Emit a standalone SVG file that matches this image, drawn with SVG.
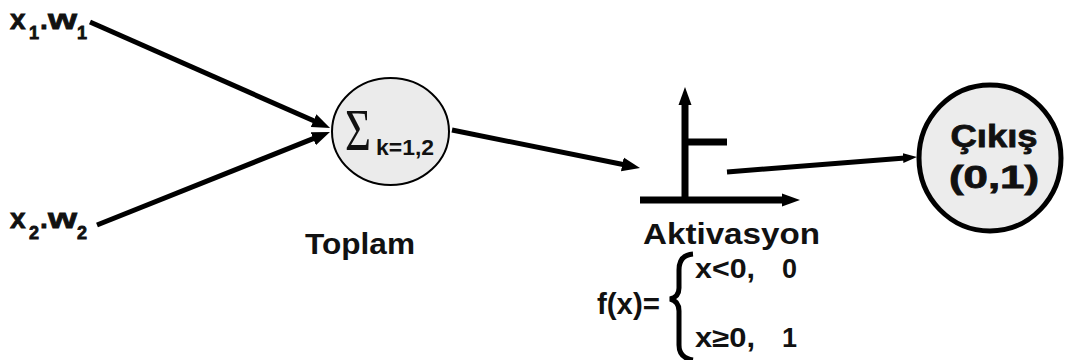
<svg xmlns="http://www.w3.org/2000/svg" width="1067" height="360" viewBox="0 0 1067 360">
<style>
.t{font-family:"Liberation Sans",Arial,sans-serif;font-weight:bold;fill:#111}
.h{stroke:#111;stroke-width:0.8}
.ln{stroke:#000;stroke-width:5;fill:none}
.ax{stroke:#000;stroke-width:7;fill:none}
</style>
<defs>
<marker id="ah" markerUnits="userSpaceOnUse" markerWidth="20" markerHeight="16" viewBox="0 -8 20 16" refX="2" refY="0" orient="auto"><path d="M0,-7 L18,0 L0,7 z" fill="#000"/></marker>
<marker id="ahs" markerUnits="userSpaceOnUse" markerWidth="16" markerHeight="12" viewBox="0 -6 16 12" refX="2" refY="0" orient="auto"><path d="M0,-5 L14,0 L0,5 z" fill="#000"/></marker>
<marker id="axh" markerUnits="userSpaceOnUse" markerWidth="20" markerHeight="16" viewBox="0 -8 20 16" refX="2" refY="0" orient="auto"><path d="M0,-6.5 L18,0 L0,6.5 z" fill="#000"/></marker>
</defs>
<rect width="1067" height="360" fill="#fff"/>
<g id="input1">
<text class="t h" font-size="28" y="29"><tspan x="10">x</tspan><tspan x="29" y="39" font-size="18">1</tspan><tspan x="40" y="29">.</tspan><tspan x="48" textLength="29" lengthAdjust="spacingAndGlyphs">w</tspan><tspan x="77" y="39" font-size="18">1</tspan></text>
</g>
<g id="input2">
<text class="t h" font-size="28" y="228"><tspan x="10">x</tspan><tspan x="29" y="239" font-size="18">2</tspan><tspan x="40" y="228">.</tspan><tspan x="48" textLength="29" lengthAdjust="spacingAndGlyphs">w</tspan><tspan x="77" y="239" font-size="18">2</tspan></text>
</g>
<g id="sum">
<ellipse cx="390.5" cy="131.5" rx="58.5" ry="53.5" fill="#ebebeb" stroke="#000" stroke-width="2"/>
<text x="345" y="150" font-family="'Liberation Serif','DejaVu Serif',serif" font-size="60" textLength="26" lengthAdjust="spacingAndGlyphs" fill="#111">Σ</text>
<text class="t" x="376" y="155" font-size="22" textLength="58" lengthAdjust="spacingAndGlyphs">k=1,2</text>
<text class="t" x="305" y="254" font-size="30" textLength="110" lengthAdjust="spacingAndGlyphs">Toplam</text>
</g>
<g id="activation">
<line class="ax" x1="685" y1="203" x2="685" y2="103" marker-end="url(#axh)"/>
<line class="ax" x1="640" y1="200" x2="784" y2="200" marker-end="url(#axh)"/>
<line class="ax" x1="682" y1="142" x2="727" y2="142"/>
<text class="t" x="643" y="244" font-size="30" textLength="177" lengthAdjust="spacingAndGlyphs">Aktivasyon</text>
<text class="t" x="597" y="314" font-size="30" textLength="63" lengthAdjust="spacingAndGlyphs">f(x)=</text>
<path d="M693,254 Q679,255 679,270 L679,288 Q679,297 670,299 Q679,301 679,311 L679,345 Q679,358 693,360" fill="none" stroke="#000" stroke-width="5"/>
<text class="t" x="695" y="278" font-size="27" textLength="60" lengthAdjust="spacingAndGlyphs">x&lt;0,</text>
<text class="t" x="782" y="278" font-size="27">0</text>
<text class="t" x="695" y="347" font-size="27" textLength="60" lengthAdjust="spacingAndGlyphs">x≥0,</text>
<text class="t" x="782" y="347" font-size="27">1</text>
</g>
<g id="output">
<ellipse cx="990" cy="158" rx="71" ry="73" fill="#ececec" stroke="#000" stroke-width="5"/>
<text class="t h" x="994" y="147" font-size="31" text-anchor="middle" textLength="87" lengthAdjust="spacingAndGlyphs">Çıkış</text>
<text class="t h" x="994" y="188" font-size="31" text-anchor="middle" textLength="90" lengthAdjust="spacingAndGlyphs">(0,1)</text>
</g>
<g id="connectors">
<line class="ln" x1="90" y1="22" x2="315.4" y2="121.5" marker-end="url(#ah)"/>
<line class="ln" x1="97" y1="225" x2="315.1" y2="137.9" marker-end="url(#ah)"/>
<line class="ln" x1="452" y1="130" x2="624.3" y2="164.8" marker-end="url(#ah)"/>
<line class="ln" x1="727" y1="172" x2="905" y2="157.9" stroke-width="4" marker-end="url(#ahs)"/>
</g>
</svg>
